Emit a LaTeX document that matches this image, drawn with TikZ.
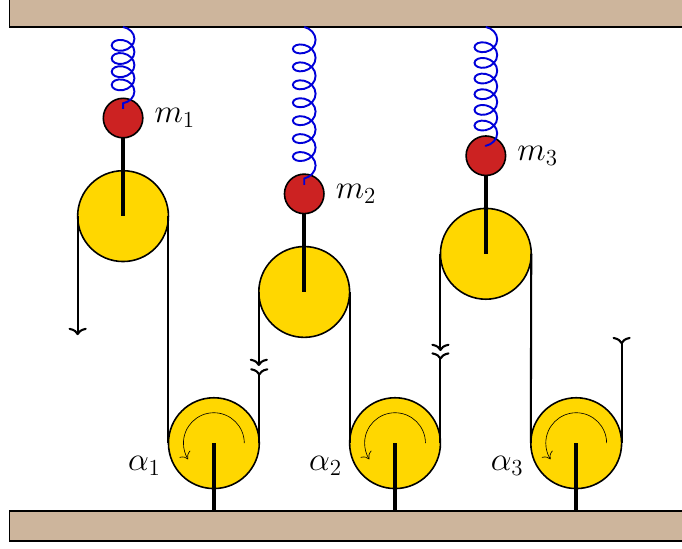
\documentclass[tikz,border=0pt]{standalone}
\usepackage{amsmath}
\usetikzlibrary{calc,decorations.pathmorphing,arrows.meta}
\definecolor{walltan}{HTML}{CDB59C}
\definecolor{pulleygold}{HTML}{FFD700}
\definecolor{massred}{HTML}{CC2222}
\tikzset{
	wall/.style={draw=black,line width=1pt,fill=walltan,rectangle,inner sep=0pt,outer sep=0pt,anchor=west,minimum width=16cm},
	pulley/.style={draw=black,line width=1pt,fill=pulleygold,circle,inner sep=0pt,outer sep=0pt,minimum size=2cm},
	mass/.style={draw=black,line width=1pt,fill=massred,circle,inner sep=0pt,outer sep=0pt,minimum size=0.87cm},
	rope/.style={line width=1.3pt},
	downtip/.style={line width=1.3pt,-{Computer Modern Rightarrow[length=1.6mm,width=4mm]}},
	uptip/.style={line width=1.3pt,-{Computer Modern Rightarrow[length=1.6mm,width=4mm,reversed]}},
	rod/.style={line width=2.2pt},
	spring/.style={blue!85!black,line width=1.2pt,decorate,decoration={coil,aspect=0.75,segment length=#1,amplitude=0.25cm}},
	turn/.style={line width=0.4pt,-{Computer Modern Rightarrow[length=1.4mm,width=2.8mm]}},
	tag/.style={font=\fontsize{19.4}{23}\selectfont,inner sep=0pt}
}
\begin{document}
\begin{tikzpicture}
			\useasboundingbox (0,0) rectangle (15.02,12.07);
			\node[wall,minimum height=1cm] (ceiling) at (0.21,11.976) {};
			\node[wall,minimum height=0.661cm] (ground) at (0.21,0.485) {};
			% lower pulleys
			\node[pulley] (b1) at (4.71,2.31) {};
			\node[pulley] (b2) at (8.7,2.31) {};
			\node[pulley] (b3) at (12.69,2.31) {};
			% upper pulleys
			\node[pulley] (p1) at (2.71,7.31) {};
			\node[pulley] (p2) at (6.7,5.64) {};
			\node[pulley] (p3) at (10.7,6.48) {};
			% masses
			\node[mass] (m1) at (2.71,9.47) {};
			\node[mass] (m2) at (6.7,7.8) {};
			\node[mass] (m3) at (10.7,8.64) {};
			\node[tag] (t1) at (3.85,9.47) {$m_1$};
			\node[tag] (t2) at (7.84,7.8) {$m_2$};
			\node[tag] (t3) at (11.84,8.63) {$m_3$};
			\node[tag] (a1) at (3.18,1.8) {$\alpha_1$};
			\node[tag] (a2) at (7.17,1.8) {$\alpha_2$};
			\node[tag] (a3) at (11.17,1.8) {$\alpha_3$};
			% free ends of the ropes
			\coordinate (e1) at (1.71,4.69);
			\coordinate (e2) at (5.7,4.01);
			\coordinate (e3) at (5.71,3.96);
			\coordinate (e4) at (9.7,4.34);
			\coordinate (e5) at (9.7,4.31);
			\coordinate (e6) at (13.69,4.65);
			% ropes
			\draw[downtip] (p1.west) -- (e1);
			\draw[rope] (p1.east) -- (b1.west);
			\draw[uptip] (b1.east) -- (e3);
			\draw[downtip] (p2.west) -- (e2);
			\draw[rope] (p2.east) -- (b2.west);
			\draw[uptip] (b2.east) -- (e5);
			\draw[downtip] (p3.west) -- (e4);
			\draw[rope] (p3.east) -- (b3.west);
			\draw[uptip] (b3.east) -- (e6);
			% rods
			\draw[rod] (m1) -- (p1.center);
			\draw[rod] (m2) -- (p2.center);
			\draw[rod] (m3) -- (p3.center);
			\draw[rod] (b1.center) -- (b1.center |- ground.north);
			\draw[rod] (b2.center) -- (b2.center |- ground.north);
			\draw[rod] (b3.center) -- (b3.center |- ground.north);
			% springs
			\draw[spring=0.29cm] (m1.center |- ceiling.south) -- ($(m1.center)+(0,0.2)$);
			\draw[spring=0.395cm] (m2.center |- ceiling.south) -- ($(m2.center)+(0,0.2)$);
			\draw[spring=0.345cm] (m3.center |- ceiling.south) -- ($(m3.center)+(0,0.2)$);
			% sense of rotation
			\draw[turn] ($(b1.center)+(0.67,0)$) arc (0:212:0.67);
			\draw[turn] ($(b2.center)+(0.67,0)$) arc (0:212:0.67);
			\draw[turn] ($(b3.center)+(0.67,0)$) arc (0:212:0.67);
		\end{tikzpicture}
\end{document}
